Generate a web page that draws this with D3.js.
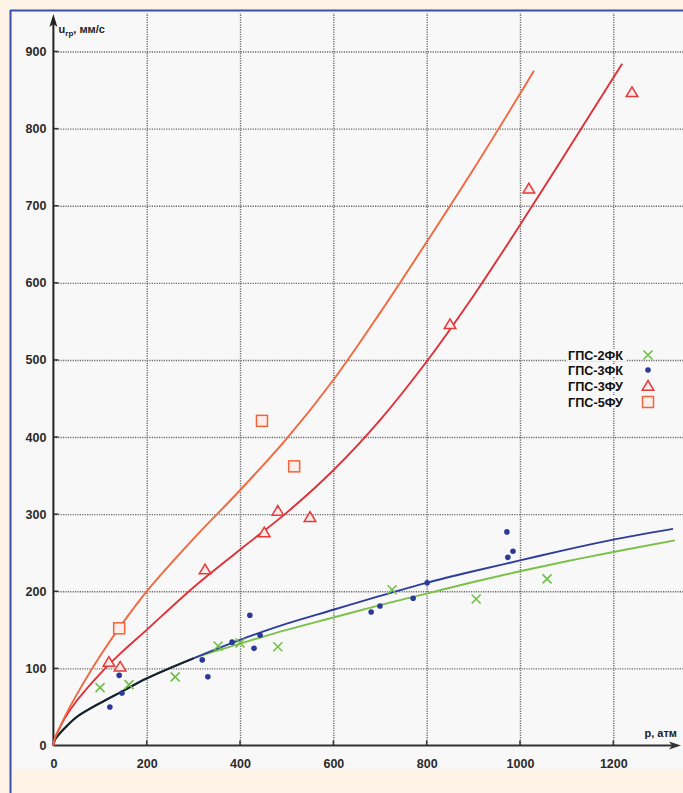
<!DOCTYPE html>
<html><head><meta charset="utf-8">
<script src="https://cdn.jsdelivr.net/npm/d3@7"></script>
<style>
html,body{margin:0;padding:0;background:#fdf3e6;}
svg{display:block;}
text{font-family:"Liberation Sans Narrow","Arial Narrow","Liberation Sans",Arial,sans-serif;}
</style></head>
<body>
<script>
// ---- data (p, атм ; u_гр, мм/с) ----
const xTicks = [0, 200, 400, 600, 800, 1000, 1200];
const yTicks = [0, 100, 200, 300, 400, 500, 600, 700, 800, 900];
const seriesNames = ["ГПС-2ФК", "ГПС-3ФК", "ГПС-3ФУ", "ГПС-5ФУ"];

const gps2fk = [[100,75],[162,79],[261,89],[353,129],[400,133],[481,128],[726,202],[906,190],[1058,216]];
const gps3fk = [[121,50],[147,68],[141,91],[319,111],[331,89],[383,134],[421,169],[443,143],[430,126],
                [681,173],[700,181],[771,191],[801,211],[972,277],[985,252],[974,244]];
const gps3fu = [[119,108],[143,102],[325,228],[452,276],[481,304],[550,296],[850,546],[1019,722],[1240,847]];
const gps5fu = [[141,152],[447,421],[516,362]];

// fitted curves
const fitCommon = [[0,0],[3,7],[10,13],[25,23],[50,37],[100,55],[150,71],[200,87],[300,113]];
const fit3fk = [[300,113],[400,137],[500,158],[600,176],[700,194],[800,211],[900,226],[1000,240],[1100,254],[1200,267],[1328,281]];
const fit2fk = [[300,112],[400,132],[500,150],[600,166],[700,182],[800,197],[900,212],[1000,226],[1100,239],[1200,251],[1332,266]];
const fit3fu = [[0,0],[3,9],[10,19],[25,36],[50,58],[100,93],[150,123],[200,150],[300,205],[400,254],[500,302],
                [600,357],[700,422],[800,498],[900,583],[1000,675],[1100,770],[1200,866],[1219,884]];
const fit5fu = [[0,0],[3,9],[10,18],[25,38],[50,66],[100,116],[150,160],[200,200],[300,268],[400,331],[500,398],
                [600,474],[700,561],[800,653],[900,747],[1000,845],[1030,875]];

// ---- drawing ----
const W = 683, H = 793;
const svg = d3.select("body").append("svg").attr("width", W).attr("height", H);

// frame
svg.append("rect").attr("x",0).attr("y",0).attr("width",W).attr("height",H).attr("fill","#fdf3e6");
svg.append("rect").attr("x",13).attr("y",12).attr("width",W-13).attr("height",757).attr("fill","#f8f8f8");
svg.append("line").attr("x1",10).attr("x2",W).attr("y1",10.5).attr("y2",10.5).attr("stroke","#3b4fb0").attr("stroke-width",2);
svg.append("line").attr("x1",10.5).attr("x2",10.5).attr("y1",10).attr("y2",H).attr("stroke","#3b4fb0").attr("stroke-width",2);

const x = d3.scaleLinear().domain([0, 1200]).range([53.4, 613.3]);
const y = d3.scaleLinear().domain([0, 900]).range([745.5, 51.5]);

// grid
const grid = svg.append("g");
grid.append("g").attr("transform", `translate(0,${y(0)})`)
  .call(d3.axisBottom(x).tickValues(xTicks.slice(1)).tickSize(-(y(0)-13)).tickFormat(""))
  .call(g => g.select(".domain").remove())
  .call(g => g.selectAll("line").attr("stroke","#6a6a6a").attr("stroke-width",1.4).attr("stroke-dasharray","1.2,1.2"));
grid.append("g").attr("transform", `translate(${x(0)},0)`)
  .call(d3.axisRight(y).tickValues(yTicks.slice(1)).tickSize(W - x(0)).tickFormat(""))
  .call(g => g.select(".domain").remove())
  .call(g => g.selectAll("line").attr("stroke","#6a6a6a").attr("stroke-width",1.4).attr("stroke-dasharray","1.2,1.2"));

// axes tick labels
const ax = svg.append("g").attr("transform", `translate(0,${y(0)})`)
  .call(d3.axisBottom(x).tickValues(xTicks).tickSize(0).tickPadding(14).tickFormat(d3.format("d")));
ax.select(".domain").remove();
ax.selectAll("text").attr("font-size",12.5).attr("font-weight","bold").attr("fill","#2a2a2a")
  .attr("font-family",'"Liberation Sans Narrow","Arial Narrow",sans-serif');
const ay = svg.append("g").attr("transform", `translate(${x(0)},0)`)
  .call(d3.axisLeft(y).tickValues(yTicks).tickSize(0).tickPadding(7).tickFormat(d3.format("d")));
ay.select(".domain").remove();
ay.selectAll("text").attr("font-size",12.5).attr("font-weight","bold").attr("fill","#2a2a2a")
  .attr("font-family",'"Liberation Sans Narrow","Arial Narrow",sans-serif');

// small ticks on axes
svg.append("g").selectAll("line").data(yTicks.slice(1)).join("line")
  .attr("x1", x(0)).attr("x2", x(0)+5).attr("y1", d=>y(d)).attr("y2", d=>y(d)).attr("stroke","#333").attr("stroke-width",1.5);
svg.append("g").selectAll("line").data(xTicks.slice(1)).join("line")
  .attr("x1", d=>x(d)).attr("x2", d=>x(d)).attr("y1", y(0)).attr("y2", y(0)-5).attr("stroke","#333").attr("stroke-width",1.5);

// axis lines with arrows
svg.append("line").attr("x1",x(0)).attr("x2",676).attr("y1",y(0)).attr("y2",y(0)).attr("stroke","#333").attr("stroke-width",2);
svg.append("path").attr("d",`M681,${y(0)} L669,${y(0)-4} L672,${y(0)} L669,${y(0)+4} Z`).attr("fill","#333");
svg.append("line").attr("x1",x(0)).attr("x2",x(0)).attr("y1",y(0)).attr("y2",20).attr("stroke","#222").attr("stroke-width",2);
svg.append("path").attr("d",`M${x(0)},14 L${x(0)-4},27 L${x(0)},24 L${x(0)+4},27 Z`).attr("fill","#222");

// axis titles
const yl = svg.append("text").attr("x", x(0)+5).attr("y", 33).attr("font-size",11).attr("font-weight","bold").attr("fill","#222");
yl.append("tspan").text("u");
yl.append("tspan").attr("font-size",8).attr("dy",3).text("гр");
yl.append("tspan").attr("dy",-3).text(", мм/с");
svg.append("text").attr("x",677).attr("y",737).attr("text-anchor","end").attr("font-size",11).attr("font-weight","bold").attr("fill","#222").text("р, атм");

// curves
const line = d3.line().x(d=>x(d[0])).y(d=>y(d[1])).curve(d3.curveCatmullRom.alpha(0.5));
const curves = svg.append("g").attr("fill","none").attr("stroke-width",1.9);
curves.append("path").datum(fitCommon.concat(fit2fk.slice(1))).attr("d",line).attr("stroke","#7cc04a");
curves.append("path").datum(fitCommon.concat(fit3fk.slice(1))).attr("d",line).attr("stroke","#2e3d9c");
curves.append("path").datum(fitCommon).attr("d",line).attr("stroke","#1b2326");
curves.append("path").datum(fit3fu).attr("d",line).attr("stroke","#df3038");
curves.append("path").datum(fit5fu).attr("d",line).attr("stroke","#f2683e");

// markers
const mk = svg.append("g");
const crossPath = s => `M${-s},${-s}L${s},${s}M${-s},${s}L${s},${-s}`;
const triPath = s => `M0,${-s}L${s*1.05},${s*0.75}L${-s*1.05},${s*0.75}Z`;
mk.selectAll(".g2").data(gps2fk).join("path")
  .attr("transform", d=>`translate(${x(d[0])},${y(d[1])})`).attr("d", crossPath(4.5))
  .attr("stroke","#6fbf45").attr("stroke-width",1.6).attr("fill","none");
mk.selectAll(".b3").data(gps3fk).join("circle")
  .attr("cx", d=>x(d[0])).attr("cy", d=>y(d[1])).attr("r",2.8).attr("fill","#2b3a99");
mk.selectAll(".t3").data(gps3fu).join("path")
  .attr("transform", d=>`translate(${x(d[0])},${y(d[1])})`).attr("d", triPath(5.5))
  .attr("stroke","#e5393a").attr("stroke-width",1.5).attr("fill","#fbeaea");
mk.selectAll(".s5").data(gps5fu).join("rect")
  .attr("x", d=>x(d[0])-5.5).attr("y", d=>y(d[1])-5.5).attr("width",11).attr("height",11)
  .attr("stroke","#f0643c").attr("stroke-width",1.5).attr("fill","#fbeeea");

// legend
const legY = [355, 370, 386, 402];
const lg = svg.append("g");
seriesNames.forEach((n,i)=>{
  lg.append("rect").attr("x",566).attr("y",legY[i]-6).attr("width",60).attr("height",12).attr("fill","#f8f8f8");
  lg.append("text").attr("x",568).attr("y",legY[i]+4.5).attr("font-size",13).attr("font-weight","bold")
    .attr("textLength",55).attr("lengthAdjust","spacingAndGlyphs").attr("fill","#111").text(n);
});
const lx = 648;
lg.append("path").attr("transform",`translate(${lx},${legY[0]})`).attr("d",crossPath(4.5)).attr("stroke","#6fbf45").attr("stroke-width",1.6);
lg.append("circle").attr("cx",lx).attr("cy",legY[1]).attr("r",2.8).attr("fill","#2b3a99");
lg.append("path").attr("transform",`translate(${lx},${legY[2]})`).attr("d",triPath(5.5)).attr("stroke","#e5393a").attr("stroke-width",1.5).attr("fill","#fbeaea");
lg.append("rect").attr("x",lx-5.5).attr("y",legY[3]-5.5).attr("width",11).attr("height",11).attr("stroke","#f0643c").attr("stroke-width",1.5).attr("fill","#fbeeea");
</script>
</body></html>
